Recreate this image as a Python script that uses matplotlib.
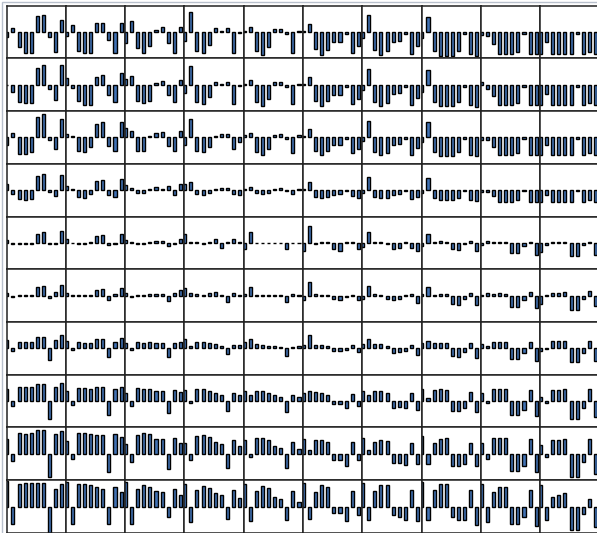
import numpy as np
import matplotlib
matplotlib.use('Agg')
import matplotlib.pyplot as plt
from matplotlib.patches import Rectangle

# bar heights for every small panel, one list per grid row (10 panels x 10 bars)
row0 = [[-5, 4, -15, -21, -21, 16, 17, -5, -20, 12],
        [-4, 7, -19, -21, -21, 9, 9, -8, -21, 9],
        [-11, 11, -16, -21, -14, 2, 5, -11, -21, 5],
        [-9, 20, -19, -21, -13, 4, 1, 4, -21, -1],
        [1, 5, -19, -23, -15, 3, 3, -2, -21, 1],
        [1, 8, -17, -23, -18, -10, -10, -2, -21, -14],
        [-6, 17, -18, -23, -19, -10, -9, -2, -22, -14],
        [-6, 15, -19, -24, -24, -24, -19, -2, -22, -24],
        [-3, -4, -12, -22, -22, -22, -20, -2, -22, -22],
        [-22, -10, -22, -22, -22, -22, -2, -22, -20, -22]]
row1 = [[0, -7, -17, -18, -18, 17, 20, -4, -15, 20],
        [7, -3, -16, -20, -20, 8, 10, -10, -17, 12],
        [6, 9, -16, -18, -16, 2, 4, -10, -17, 5],
        [-8, 19, -17, -19, -12, 3, 1, 3, -19, -1],
        [1, 5, -17, -21, -14, 3, 3, -2, -19, 1],
        [1, 8, -16, -21, -16, -10, -10, -2, -19, -14],
        [-5, 16, -17, -21, -18, -9, -8, -2, -20, -13],
        [-7, 15, -17, -21, -21, -21, -17, -2, -20, -22],
        [3, -4, -11, -20, -20, -20, -18, -2, -20, -20],
        [-20, -9, -20, -20, -20, -20, -2, -20, -18, -20]]
row2 = [[-8, 4, -17, -17, -15, 20, 23, -3, -12, 18],
        [3, 1, -14, -15, -10, 13, 15, -9, -14, 15],
        [9, 6, -14, -14, 1, 4, 5, -9, -14, 6],
        [-8, 18, -14, -15, -10, 1, 3, 3, -12, -5],
        [2, 4, -15, -18, -12, 2, 3, -2, -16, 2],
        [1, 8, -14, -18, -14, -8, -8, -2, -16, -12],
        [-4, 16, -15, -18, -16, -8, -7, -2, -18, -11],
        [-5, 15, -15, -19, -19, -19, -15, -2, -18, -19],
        [-3, -3, -10, -18, -18, -18, -16, -2, -18, -18],
        [-18, -8, -18, -18, -18, -18, -2, -18, -16, -18]]
row3 = [[6, -4, -9, -10, -9, 14, 16, -2, -6, 15],
        [4, 1, -7, -8, -4, 9, 10, -5, -7, 11],
        [5, 2, -3, -3, 1, 3, 1, 4, -5, 6],
        [6, 8, -4, -5, -3, 1, 2, 2, -4, -5],
        [1, 3, -3, -4, -3, 1, 2, -1, -4, 1],
        [1, 8, -7, -8, -7, -5, -4, -1, -6, -8],
        [-3, 13, -7, -8, -8, -5, -4, -1, -9, -7],
        [-3, 12, -8, -10, -10, -10, -8, -1, -10, -11],
        [-2, -2, -6, -12, -12, -12, -10, -1, -12, -12],
        [-12, -5, -12, -12, -12, -12, -1, -12, -10, -12]]
row4 = [[3, -1, -1, -1, -1, 9, 11, -1, -1, 12],
        [4, 0, -1, -1, 1, 7, 8, -2, -1, 9],
        [3, 1, -1, -1, 1, 2, 2, -3, -1, 4],
        [9, 1, 1, -1, 1, 4, -5, 1, 4, 1],
        [-6, 11, 0, 0, 0, 0, 0, -6, 0, 0],
        [-8, 17, -1, 1, 1, -6, -8, 1, 1, -6],
        [-4, 11, 1, 1, -1, -6, -5, 1, -5, -8],
        [-3, 9, 1, 2, 1, -6, -7, -1, 2, -8],
        [-2, 2, 1, 1, 1, -10, -10, -3, 1, -12],
        [-9, -2, 1, 1, 1, -13, -13, -2, 1, -12]]
row5 = [[3, -1, 1, 1, 1, 9, 10, -2, 4, 11],
        [3, 1, 1, 1, 1, 6, 7, -4, 2, 8],
        [3, -1, 1, 1, 2, 2, 2, -5, 3, 6],
        [8, 3, 2, 1, 3, 4, 1, -6, 3, 1],
        [2, 9, 1, 1, 1, 1, 1, -6, 2, 1],
        [-4, 14, 2, 1, 1, -3, -4, -1, 1, -4],
        [-3, 10, 2, 1, -3, -4, -3, 1, 2, -7],
        [2, 9, 1, 2, 2, -8, -9, -3, 3, -9],
        [1, 3, 2, 3, 2, -11, -11, -4, 4, -12],
        [-8, 1, 3, 3, 4, -14, -14, -3, 5, -10]]
row6 = [[8, -3, 6, 6, 6, 11, 11, -12, 8, 13],
        [7, -2, 6, 5, 5, 9, 9, -9, 6, 10],
        [5, -2, 6, 5, 6, 5, 5, -9, 5, 6],
        [9, 2, 6, 6, 5, 4, 2, -6, 3, 3],
        [6, 9, 4, 3, 2, 2, 1, -8, 1, 2],
        [3, 13, 3, 3, 2, -3, -3, -2, 3, -4],
        [4, 9, 4, 4, 2, -5, -4, -3, 3, -7],
        [5, 7, 5, 5, 5, -8, -9, -4, 5, -10],
        [4, 2, 6, 6, 6, -11, -11, -5, 6, -13],
        [-3, -1, 7, 7, 7, -14, -14, -5, 7, -13]]
row7 = [[12, -5, 14, 14, 14, 17, 17, -18, 14, 18],
        [10, -4, 13, 13, 12, 14, 14, -14, 12, 14],
        [8, -5, 13, 12, 12, 10, 10, -12, 11, 9],
        [11, -2, 12, 12, 10, 8, 6, -10, 8, 6],
        [10, 6, 10, 10, 8, 6, 4, -11, 6, 4],
        [8, 10, 9, 8, 6, -3, -3, -7, 7, -5],
        [10, 6, 10, 10, 8, -7, -6, -7, 8, -9],
        [12, 3, 11, 12, 11, -10, -10, -7, 9, -11],
        [8, -2, 12, 12, 12, -14, -14, -9, 11, -15],
        [4, -2, 11, 11, 12, -18, -18, -7, 12, -16]]
row8 = [[15, -7, 21, 20, 21, 24, 24, -23, 20, 23],
        [13, -5, 21, 21, 20, 19, 19, -18, 20, 17],
        [10, -8, 19, 21, 20, 15, 15, -15, 16, 11],
        [11, -6, 18, 19, 17, 12, 10, -14, 14, 8],
        [14, -3, 16, 16, 14, 8, 6, -14, 12, 5],
        [15, 4, 14, 14, 12, -6, -6, -12, 12, -6],
        [16, 4, 12, 14, 13, -9, -9, -11, 11, -10],
        [18, -10, 11, 15, 16, -12, -12, -10, 11, -12],
        [11, -5, 16, 16, 16, -17, -17, -12, 15, -18],
        [9, -3, 14, 14, 15, -23, -23, -8, 15, -20]]
row9 = [[26, -17, 23, 24, 24, 24, 24, -28, 18, 23],
        [25, -17, 23, 23, 22, 20, 18, -17, 20, 15],
        [25, -17, 18, 22, 20, 16, 15, -10, 18, 12],
        [23, -15, 17, 21, 19, 14, 12, -12, 17, 9],
        [23, -14, 16, 21, 19, 10, 8, -13, 16, 5],
        [24, -12, 15, 22, 20, -6, -6, -14, 16, -8],
        [24, -13, 16, 22, 22, -8, -10, -13, 17, -14],
        [25, -13, 17, 23, 23, -10, -13, -13, 17, -18],
        [23, -15, 15, 20, 20, -17, -17, -10, 17, -19],
        [22, -13, 10, 12, 14, -23, -23, -7, 8, -20]]

grid = [row0, row1, row2, row3, row4, row5, row6, row7, row8, row9]

bar_color = '#4172b4'

fig, axes = plt.subplots(10, 10, figsize=(5.97, 5.33), dpi=100, sharey=True)
fig.subplots_adjust(left=6.5 / 597, right=599.5 / 597, top=1 - 5.5 / 533,
                    bottom=0, wspace=0, hspace=0)

for r, row in enumerate(grid):
    for c, vals in enumerate(row):
        ax = axes[r, c]
        ax.bar(np.arange(len(vals)), vals, width=0.5, color=bar_color,
               edgecolor='black', linewidth=1.0)
        ax.set_xlim(-0.05, 9.65)
        ax.set_ylim(-26.4, 26.4)
        ax.set_xticks([])
        ax.set_yticks([])
        for sp in ax.spines.values():
            sp.set_color('#222222')
            sp.set_linewidth(1.1)

# faint outer frame of the picture
fig.patches.append(Rectangle((2 / 597, -0.01), 1.0, 1 - 1.5 / 533 + 0.01,
                             transform=fig.transFigure, fill=False,
                             edgecolor='#b8c0cc', linewidth=1.0))

fig.savefig('out.png', dpi=100)
